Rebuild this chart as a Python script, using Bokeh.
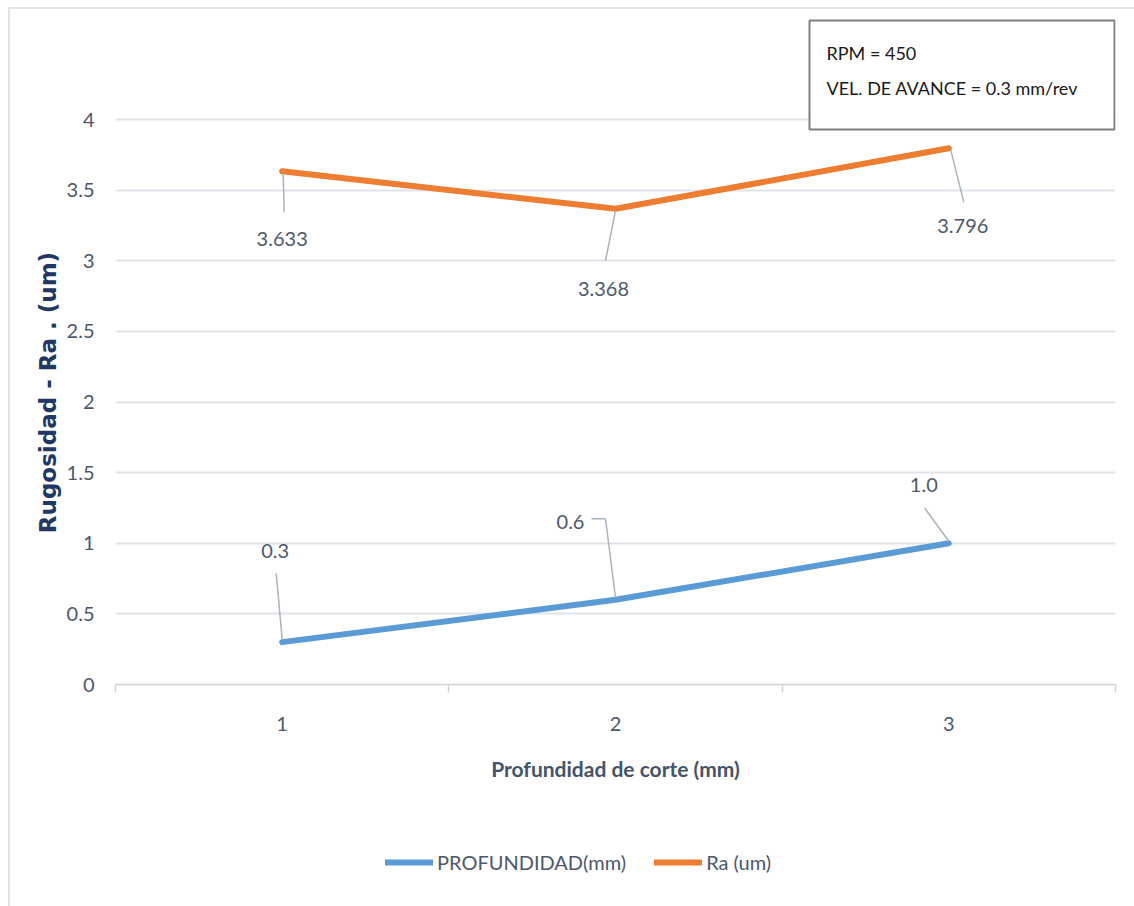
from bokeh.plotting import figure
from bokeh.layouts import column
from bokeh.models import (Range1d, FixedTicker, Label, Legend, LegendItem,
                          BoxAnnotation)
from bokeh.core.properties import value
from bokeh.embed import file_html
from bokeh.resources import INLINE

# ---- data ----
depth_steps = [1, 2, 3]
profundidad_mm = [0.3, 0.6, 1.0]
ra_um = [3.633, 3.368, 3.796]
x_tick_labels = ["1", "2", "3"]
y_ticks = [0, 0.5, 1, 1.5, 2, 2.5, 3, 3.5, 4]
y_tick_labels = ["0", "0.5", "1", "1.5", "2", "2.5", "3", "3.5", "4"]
series_names = ["PROFUNDIDAD(mm)", "Ra (um)"]
note_lines = ["RPM = 450", "VEL. DE AVANCE = 0.3 mm/rev"]
y_title = "Rugosidad - Ra . (um)"
x_title = "Profundidad de corte (mm)"

# ---- style ----
FONT = "Lato"
FS = "20px"
TXT = "#4d596b"
GRID = "#dfe3ea"
EDGE = "#dfe3ea"
BLUE = "#5B9BD5"
ORANGE = "#ED7D31"
LEADER = "#aab3c0"

W = 1134
H_MAIN, H_LEG = 800, 106
FRAME_L, FRAME_R, FRAME_T, FRAME_B = 115, 1115, 12, 684
Y_AT_0, Y_AT_4 = 684, 119
px_y = (Y_AT_0 - Y_AT_4) / 4.0
X0, X1 = 0.5, 3.5
px_x = (FRAME_R - FRAME_L) / (X1 - X0)
Y1 = 4 + (Y_AT_4 - FRAME_T) / px_y

# thin light edge along the top and left of the chart area, painted
# behind a transparent canvas border
edge_top = f"linear-gradient({EDGE}, {EDGE}) 8px 7px / calc(100% - 8px) 2px no-repeat"
edge_left_main = f"linear-gradient({EDGE}, {EDGE}) 8px 7px / 2px calc(100% - 7px) no-repeat"
edge_left_leg = f"linear-gradient({EDGE}, {EDGE}) 8px 0px / 2px 100% no-repeat"

p = figure(width=W, height=H_MAIN, output_backend="svg", toolbar_location=None,
           x_range=Range1d(X0, X1), y_range=Range1d(0, Y1),
           min_border_left=FRAME_L, min_border_right=W - FRAME_R,
           min_border_top=FRAME_T, min_border_bottom=H_MAIN - FRAME_B)
p.styles = {"background": f"{edge_top}, {edge_left_main}, #ffffff"}
p.border_fill_color = None
p.outline_line_color = None
p.background_fill_color = "white"

# x axis: category-style ticks between the points
xa = p.xaxis[0]
xa.ticker = FixedTicker(ticks=depth_steps, minor_ticks=[0.5, 1.5, 2.5, 3.5])
xa.major_label_overrides = {s: t for s, t in zip(depth_steps, x_tick_labels)}
xa.major_tick_out = 0
xa.major_tick_in = 0
xa.minor_tick_out = 8
xa.minor_tick_in = 0
xa.minor_tick_line_color = "#d0d4da"
xa.minor_tick_line_width = 1.5
xa.axis_line_color = "#d0d4da"
xa.axis_line_width = 1.5
xa.major_label_text_font = FONT
xa.major_label_text_font_size = FS
xa.major_label_text_color = TXT
xa.major_label_standoff = 24
xa.axis_label = x_title
xa.axis_label_text_font = FONT
xa.axis_label_text_font_style = "bold"
xa.axis_label_text_font_size = "21px"
xa.axis_label_text_color = "#44546A"
xa.axis_label_standoff = 22

# y axis title: trailing no-break spaces keep the words centred on the 0-4 span
ya = p.yaxis[0]
ya.ticker = FixedTicker(ticks=y_ticks)
ya.major_label_overrides = {t: s for t, s in zip(y_ticks, y_tick_labels)}
ya.axis_line_color = None
ya.major_tick_line_color = None
ya.minor_tick_line_color = None
ya.major_label_text_font = FONT
ya.major_label_text_font_size = FS
ya.major_label_text_color = TXT
ya.major_label_standoff = 15
ya.axis_label = y_title + "\u00a0" * 11
ya.axis_label_text_font = "DejaVu Sans"
ya.axis_label_text_font_style = "bold"
ya.axis_label_text_font_size = "23px"
ya.axis_label_text_color = "#1F3864"
ya.axis_label_standoff = 3

p.xgrid.grid_line_color = None
p.ygrid.ticker = FixedTicker(ticks=y_ticks)
p.ygrid.grid_line_color = GRID
p.ygrid.grid_line_width = 2

# ---- series ----
line_kw = dict(line_width=6, line_cap="round", line_join="round")
p.line(depth_steps, profundidad_mm, line_color=BLUE, **line_kw)
p.line(depth_steps, ra_um, line_color=ORANGE, **line_kw)

# ---- data labels with leader lines (offsets in screen pixels, y down) ----
label_off_blue = [(-7, -91), (-45, -78), (-25, -58)]
leader_blue = [[(0, -3), (-6, -69)],
               [(0, -2), (-10, -81), (-24, -81)],
               [(0, -2), (-24, -35)]]
label_off_orange = [(0, 68), (-12, 80), (14, 78)]
leader_orange = [[(1, 2), (2, 41)],
                 [(0, 2), (-10, 52)],
                 [(2, 2), (15, 54)]]


def add_labels(xs, ys, texts, offs, leaders):
    lx = [x + dx / px_x for x, (dx, dy) in zip(xs, offs)]
    ly = [y - dy / px_y for y, (dx, dy) in zip(ys, offs)]
    mxs = [[x + dx / px_x for dx, dy in pts] for x, pts in zip(xs, leaders)]
    mys = [[y - dy / px_y for dx, dy in pts] for y, pts in zip(ys, leaders)]
    p.multi_line(mxs, mys, line_color=LEADER, line_width=1.5)
    p.text(lx, ly, text=texts, text_font=value(FONT), text_font_size=FS,
           text_color=TXT, text_align="center", text_baseline="middle")


add_labels(depth_steps, profundidad_mm, [f"{v:.1f}" for v in profundidad_mm],
           label_off_blue, leader_blue)
add_labels(depth_steps, ra_um, [f"{v:.3f}" for v in ra_um],
           label_off_orange, leader_orange)

# ---- note box in the top-right corner (screen px from frame bottom-left) ----
box_l, box_r, box_t, box_b = 809, 1114, 20, 129
p.add_layout(BoxAnnotation(left=box_l - FRAME_L, right=box_r - FRAME_L,
                           top=FRAME_B - box_t, bottom=FRAME_B - box_b,
                           left_units="screen", right_units="screen",
                           top_units="screen", bottom_units="screen",
                           fill_color="white", fill_alpha=1,
                           line_color="#7f7f7f", line_alpha=1, line_width=2,
                           level="overlay"))
for i, line in enumerate(note_lines):
    p.add_layout(Label(x=826 - FRAME_L, y=FRAME_B - (52 + 35 * i),
                       x_units="screen", y_units="screen",
                       text=line, text_font=FONT, text_font_size="18px",
                       text_color="#1a1a1a", text_baseline="middle",
                       level="overlay"))

# ---- legend strip under the chart (its frame lines up with the chart's) ----
pl = figure(width=W, height=H_LEG, output_backend="svg", toolbar_location=None,
            x_range=Range1d(0, 1), y_range=Range1d(0, 1),
            x_axis_location=None, y_axis_location=None, min_border=0)
pl.styles = {"background": f"{edge_left_leg}, #ffffff"}
pl.border_fill_color = None
pl.background_fill_color = None
pl.outline_line_color = None
pl.grid.visible = False
# legend swatches: line renderers kept outside the visible range
lg_blue = pl.line([-2, -1], [-2, -1], line_color=BLUE, **line_kw)
lg_orange = pl.line([-2, -1], [-2, -1], line_color=ORANGE, **line_kw)
legend = Legend(items=[LegendItem(label=series_names[0], renderers=[lg_blue]),
                       LegendItem(label=series_names[1], renderers=[lg_orange])],
                orientation="horizontal", location=(270, 32),
                border_line_color=None, background_fill_alpha=0,
                padding=0, margin=0, spacing=28, glyph_width=48,
                glyph_height=24, label_height=24, label_standoff=4,
                label_text_font=FONT, label_text_font_size=FS,
                label_text_color=TXT)
pl.add_layout(legend)

open("out.html", "w").write(file_html(column(p, pl, spacing=0), INLINE))
